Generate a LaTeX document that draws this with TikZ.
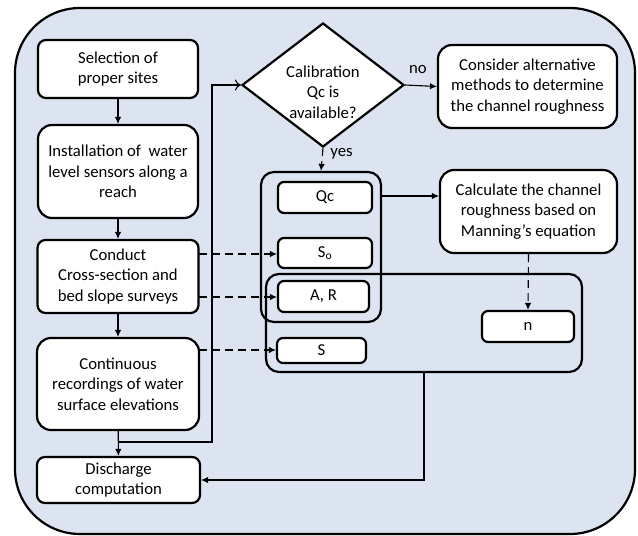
\documentclass[tikz,border=0pt]{standalone}
\usepackage{fontspec}
\setmainfont{Carlito}
\usetikzlibrary{shapes.geometric,arrows.meta,calc}
\definecolor{bgblue}{HTML}{DBE4F0}
\begin{document}
\begin{tikzpicture}[x=1pt,y=-1pt,
  font=\fontsize{16.7}{20.5}\selectfont,
  box/.style={draw=black,line width=2.2pt,fill=white,rounded corners=8pt,align=center,inner sep=0pt},
  bigbox/.style={box,rounded corners=14pt},
  grp/.style={draw=black,line width=2.2pt,rounded corners=13pt,inner sep=0pt},
  conn/.style={line width=1.1pt,-{Latex[length=7pt,width=6.5pt]}},
  dconn/.style={conn,dash pattern=on 8pt off 5pt},
  oconn/.style={line width=1.1pt,-{To[length=6pt,width=11pt]}}]
\useasboundingbox (0,0) rectangle (638,536);
\draw[line width=2.2pt,fill=bgblue,rounded corners=65pt] (15,8) rectangle (635,534);
% left column
\node[box,minimum width=160pt,minimum height=58pt] (sel) at (118,69) {Selection of\\proper sites};
\node[bigbox,minimum width=160pt,minimum height=93pt] (inst) at (118,171.5) {Installation of\ \ water\\level sensors along a\\reach};
\node[box,minimum width=161pt,minimum height=73pt] (cond) at (118,276.5) {Conduct\\Cross-section and\\bed slope surveys};
\node[bigbox,minimum width=162pt,minimum height=92pt] (cont) at (118,384) {Continuous\\recordings of water\\surface elevations};
\node[box,minimum width=163pt,minimum height=46pt] (dis) at (118.5,480) {Discharge\\computation};
% diamond
\node[draw=black,line width=2.2pt,fill=white,diamond,aspect=1.306,minimum width=162pt,minimum height=124pt,inner sep=0pt] (dia) at (323,85) {};
\node[align=center,inner sep=0pt] (diatext) at (323,92) {Calibration\\Qc is\\available?};
% right
\node[box,rounded corners=14pt,minimum width=179pt,minimum height=83pt] (cons) at (527.5,86.5) {Consider alternative\\methods to determine\\the channel roughness};
\node[box,rounded corners=14pt,minimum width=177pt,minimum height=83pt] (calc) at (528.5,211.5) {Calculate the channel\\roughness based on\\Manning’s equation};
% groups
\node[grp,minimum width=120pt,minimum height=150pt] (g1) at (321,247) {};
\node[grp,minimum width=316pt,minimum height=98pt] (g2) at (424,323) {};
\node[box,rounded corners=6pt,minimum width=94pt,minimum height=31pt] (qc) at (325,197.5) {Qc};
\node[box,rounded corners=6pt,minimum width=94pt,minimum height=30pt] (so) at (325,253) {S\textsubscript{o}};
\node[box,rounded corners=6pt,minimum width=91pt,minimum height=31pt] (ar) at (323.5,296.5) {A, R};
\node[box,rounded corners=6pt,minimum width=89pt,minimum height=25pt] (s) at (321.5,350.5) {S};
\node[box,rounded corners=6pt,minimum width=92pt,minimum height=31pt] (n) at (528,326.5) {n};
% connectors
\draw[conn] (sel) -- (inst);
\draw[conn] (inst) -- (cond);
\draw[conn] (cond) -- (cont);
\draw[conn] (cont) -- (dis);
\coordinate (j) at (118,442);
\coordinate (jr) at (212,442);
\draw[oconn] (j) -- (jr) |- (dia.west);
\draw[conn] (dia.east) -- node[above=8pt,pos=0.4]{no} (cons.west);
\draw[dconn] (dia.south) -- node[right=4pt,pos=0.25]{yes} (g1.north);
\coordinate (g1r) at (381,196);
\draw[conn] (g1r) -- (g1r -| calc.west);
\draw[dconn] (calc.south) -- (n.north);
\coordinate (c1) at (199,254);
\coordinate (c2) at (199,297);
\coordinate (c3) at (199,350);
\draw[dconn] (c1) -- (c1 -| so.west);
\draw[dconn] (c2) -- (c2 -| ar.west);
\draw[dconn] (c3) -- (c3 -| s.west);
\draw[conn] (g2.south) |- (dis.east);
\end{tikzpicture}
\end{document}
